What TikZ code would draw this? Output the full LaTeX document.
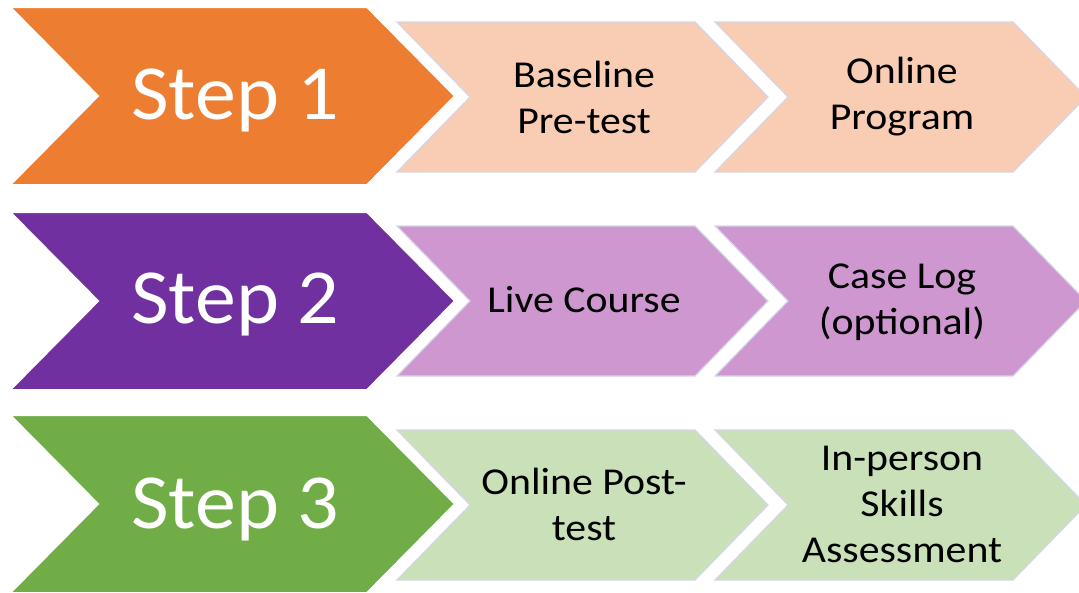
\documentclass[tikz,border=0pt]{standalone}
\usepackage{fontspec}
\setmainfont{Carlito}
\definecolor{orangeD}{HTML}{ED7D31}
\definecolor{orangeL}{HTML}{F8CDB3}
\definecolor{purpleD}{HTML}{7030A0}
\definecolor{purpleL}{HTML}{CE97D0}
\definecolor{greenD}{HTML}{70AD47}
\definecolor{greenL}{HTML}{C9E0B8}
\definecolor{edgeL}{HTML}{D4D6E8}
\tikzset{
  bigchev/.style={draw=white, line width=2pt, line join=miter},
  smallchev/.style={draw=edgeL, line width=1.2pt, line join=miter},
  bigtext/.style={text=white, font=\fontsize{78}{90}\selectfont, inner sep=0pt, xscale=1.05},
  smalltext/.style={text=black, font=\fontsize{38}{46}\selectfont, align=center, inner sep=0pt, xscale=1.1},
}
% #1 x-left, #2 y-top, #3 width to tip, #4 height, #5 depth, #6 style
\newcommand\mychevron[6]{%
  \path[#6] (#1,#2) -- (#1+#3-#5,#2) -- (#1+#3,#2+#4/2) -- (#1+#3-#5,#2+#4)
    -- (#1,#2+#4) -- (#1+#5,#2+#4/2) -- cycle;}
\begin{document}
\begin{tikzpicture}[x=1pt,y=-1pt]
\useasboundingbox (0,0) rectangle (1079,592);
\clip (0,0) rectangle (1079,592);
% Row 1
\mychevron{397}{22}{371}{150}{73}{smallchev, fill=orangeL}
\mychevron{715}{22}{371}{150}{73}{smallchev, fill=orangeL}
\mychevron{10}{7}{445}{178}{88}{bigchev, fill=orangeD}
\node[bigtext] (s1) at (235,100) {Step 1};
\node[smalltext] (a1) at (584,97) {Baseline\\Pre-test};
\node[smalltext] (b1) at (902,97) {Online\\Program};
% Row 2
\mychevron{397}{226}{371}{150}{73}{smallchev, fill=purpleL}
\mychevron{715}{226}{371}{150}{73}{smallchev, fill=purpleL}
\mychevron{10}{212}{445}{178}{88}{bigchev, fill=purpleD}
\node[bigtext] (s2) at (235,304) {Step 2};
\node[smalltext] (a2) at (584,300) {Live Course};
\node[smalltext] (b2) at (902,302) {Case Log\\(optional)};
% Row 3
\mychevron{397}{430}{371}{150}{73}{smallchev, fill=greenL}
\mychevron{715}{430}{371}{150}{73}{smallchev, fill=greenL}
\mychevron{10}{415}{445}{178}{88}{bigchev, fill=greenD}
\node[bigtext] (s3) at (235,509) {Step 3};
\node[smalltext] (a3) at (584,504) {Online Post-\\test};
\node[smalltext] (b3) at (902,504) {In-person\\Skills\\Assessment};
\end{tikzpicture}
\end{document}
